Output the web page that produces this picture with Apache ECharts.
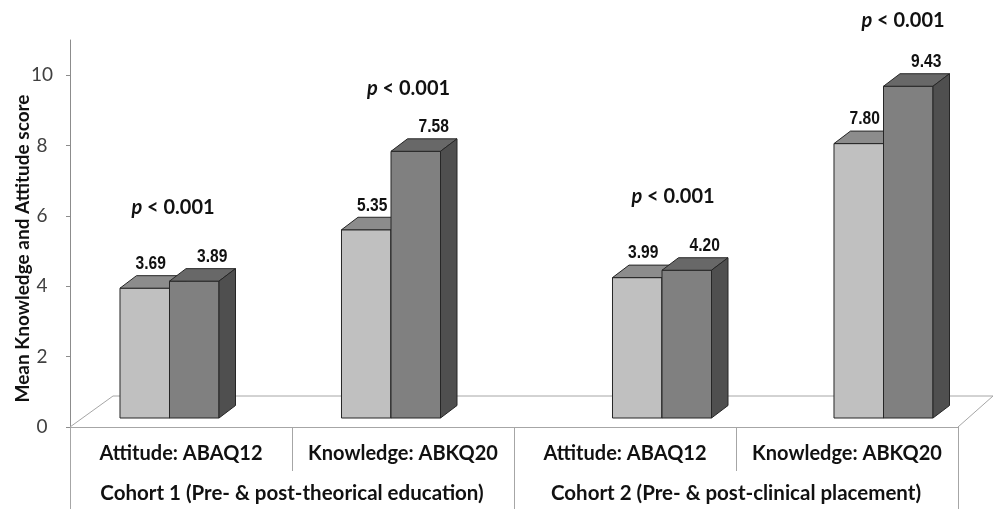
<!DOCTYPE html>
<html>
<head>
<meta charset="utf-8">
<script src="https://cdn.jsdelivr.net/npm/echarts@6/dist/echarts.min.js"></script>
<style>
  html, body { margin: 0; background: #fff; }
  #chart { width: 996px; height: 509px; }
</style>
</head>
<body>
<div id="chart"></div>
<script>
'use strict';

// ---- data ----
const measures = ['Attitude: ABAQ12', 'Knowledge: ABKQ20', 'Attitude: ABAQ12', 'Knowledge: ABKQ20'];
const cohorts = ['Cohort 1 (Pre- & post-theorical education)', 'Cohort 2 (Pre- & post-clinical placement)'];
const preScores = [3.69, 5.35, 3.99, 7.80];
const postScores = [3.89, 7.58, 4.20, 9.43];
const pValues = ['< 0.001', '< 0.001', '< 0.001', '< 0.001'];
const yTicks = [0, 2, 4, 6, 8, 10];
const yTitle = 'Mean Knowledge and Attitude score';

// ---- look of the fake 3d ----
const DX = 16.5, DY = 12.5;      // bar depth
const LIFT = 9;                   // bars stand a bit behind the front floor edge
const BAR_FRAC = 0.223;           // one bar width, share of a category
const groupNudge = [-11.5, -12, 37, 36.5];
const pNudge = [[3.5, -61], [17.5, -50], [11, -61], [19.5, -53]];
const light = { front: '#c0c0c0', top: '#8c8c8c', side: '#6e6e6e' };
const dark = { front: '#808080', top: '#686868', side: '#4f4f4f' };
const EDGE = '#262626';
const GRID_LINE = '#a6a6a6';

function renderFloor(params, api) {
    const cs = params.coordSys;
    const yF = cs.y + cs.height;
    const x0 = cs.x, x1 = cs.x + cs.width;
    return {
        type: 'polyline',
        shape: { points: [[x0, yF], [x0 + 43, yF - 31], [x1 + 35, yF - 31], [x1, yF]] },
        style: { stroke: GRID_LINE, fill: null, lineWidth: 1 }
    };
}

function renderBars(params, api) {
    const i = api.value(0);
    const vals = [api.value(1), api.value(2)];
    const base = api.coord([i, 0]);
    const bw = api.size([1, 0])[0] * BAR_FRAC;
    const left = base[0] + groupNudge[i] - bw;
    const floorY = base[1] - LIFT;
    const kids = [];
    const labelDx = [6, 18];
    let topBack = 0;

    [light, dark].forEach((c, k) => {
        const x0 = left + k * bw, x1 = x0 + bw;
        const yTop = api.coord([i, vals[k]])[1] - LIFT;
        kids.push({
            type: 'rect',
            shape: { x: x0, y: yTop, width: bw, height: floorY - yTop },
            style: { fill: c.front, stroke: EDGE, lineWidth: 1 }
        });
        kids.push({
            type: 'polygon',
            shape: { points: [[x0, yTop], [x0 + DX, yTop - DY], [x1 + DX, yTop - DY], [x1, yTop]] },
            style: { fill: c.top, stroke: EDGE, lineWidth: 1 }
        });
        kids.push({
            type: 'polygon',
            shape: { points: [[x1, yTop], [x1 + DX, yTop - DY], [x1 + DX, floorY - DY], [x1, floorY]] },
            style: { fill: c.side, stroke: EDGE, lineWidth: 1 }
        });
        // narrow numbers: squeeze a bold sans horizontally
        kids.push({
            type: 'text',
            x: x0 + bw / 2 + labelDx[k],
            y: yTop - DY - 12,
            scaleX: 0.82,
            style: {
                text: vals[k].toFixed(2),
                x: 0,
                y: 0,
                align: 'center',
                verticalAlign: 'middle',
                font: 'bold 19px "Liberation Sans", Arial, sans-serif',
                fill: '#111'
            }
        });
        topBack = yTop - DY;
    });

    kids.push({
        type: 'text',
        style: {
            text: '{i|p}{n| ' + pValues[i] + '}',
            x: left + bw + pNudge[i][0],
            y: topBack + pNudge[i][1],
            align: 'center',
            verticalAlign: 'middle',
            font: 'bold 20px Lato, sans-serif',
            fill: '#111',
            rich: {
                i: { font: 'italic bold 20px Lato, sans-serif', fontStyle: 'italic', fontWeight: 'bold', fontSize: 20, fontFamily: 'Lato', fill: '#111' },
                n: { font: 'bold 20px Lato, sans-serif', fontWeight: 'bold', fontSize: 20, fontFamily: 'Lato', fill: '#111' }
            }
        }
    });

    return { type: 'group', children: kids };
}

const chart = echarts.init(document.getElementById('chart'), null, { renderer: 'canvas' });

chart.setOption({
    animation: false,
    backgroundColor: '#fff',
    grid: { left: 70, right: 38, top: 40, bottom: 82, containLabel: false, outerBoundsMode: 'none' },
    xAxis: [
        {
            type: 'category',
            data: measures,
            boundaryGap: true,
            axisLine: { show: true, lineStyle: { color: GRID_LINE } },
            axisTick: { show: true, length: 44, alignWithLabel: false, lineStyle: { color: GRID_LINE } },
            axisLabel: { interval: 0, margin: 17, fontFamily: 'Lato', fontWeight: 'bold', fontSize: 20, color: '#111' }
        },
        {
            type: 'category',
            data: cohorts,
            position: 'bottom',
            boundaryGap: true,
            axisLine: { show: false },
            axisTick: { show: true, length: 82, alignWithLabel: false, lineStyle: { color: GRID_LINE } },
            axisLabel: { interval: 0, margin: 56, fontFamily: 'Lato', fontWeight: 'bold', fontSize: 20.5, color: '#111' }
        }
    ],
    yAxis: {
        type: 'value',
        min: 0,
        max: 11,
        interval: 2,
        axisLine: { show: true, lineStyle: { color: '#8c8c8c' } },
        axisTick: { show: true, length: 4, customValues: yTicks, lineStyle: { color: '#8c8c8c' } },
        axisLabel: { customValues: yTicks, align: 'center', margin: 28, fontFamily: 'Lato', fontSize: 19, color: '#404040' },
        splitLine: { show: false },
        name: yTitle,
        nameLocation: 'middle',
        nameRotate: 90,
        nameGap: 38,
        nameMoveOverlap: false,
        nameTextStyle: { fontFamily: 'Lato', fontWeight: 'bold', fontSize: 19, color: '#111', padding: [0, 30, 0, 0] }
    },
    series: [
        {
            type: 'custom',
            name: 'floor',
            renderItem: renderFloor,
            data: [[0, 0]],
            silent: true,
            z: 1
        },
        {
            type: 'custom',
            name: 'scores',
            renderItem: renderBars,
            encode: { x: 0, y: [1, 2] },
            data: measures.map((m, i) => [i, preScores[i], postScores[i]]),
            z: 3
        }
    ]
});
</script>
</body>
</html>
